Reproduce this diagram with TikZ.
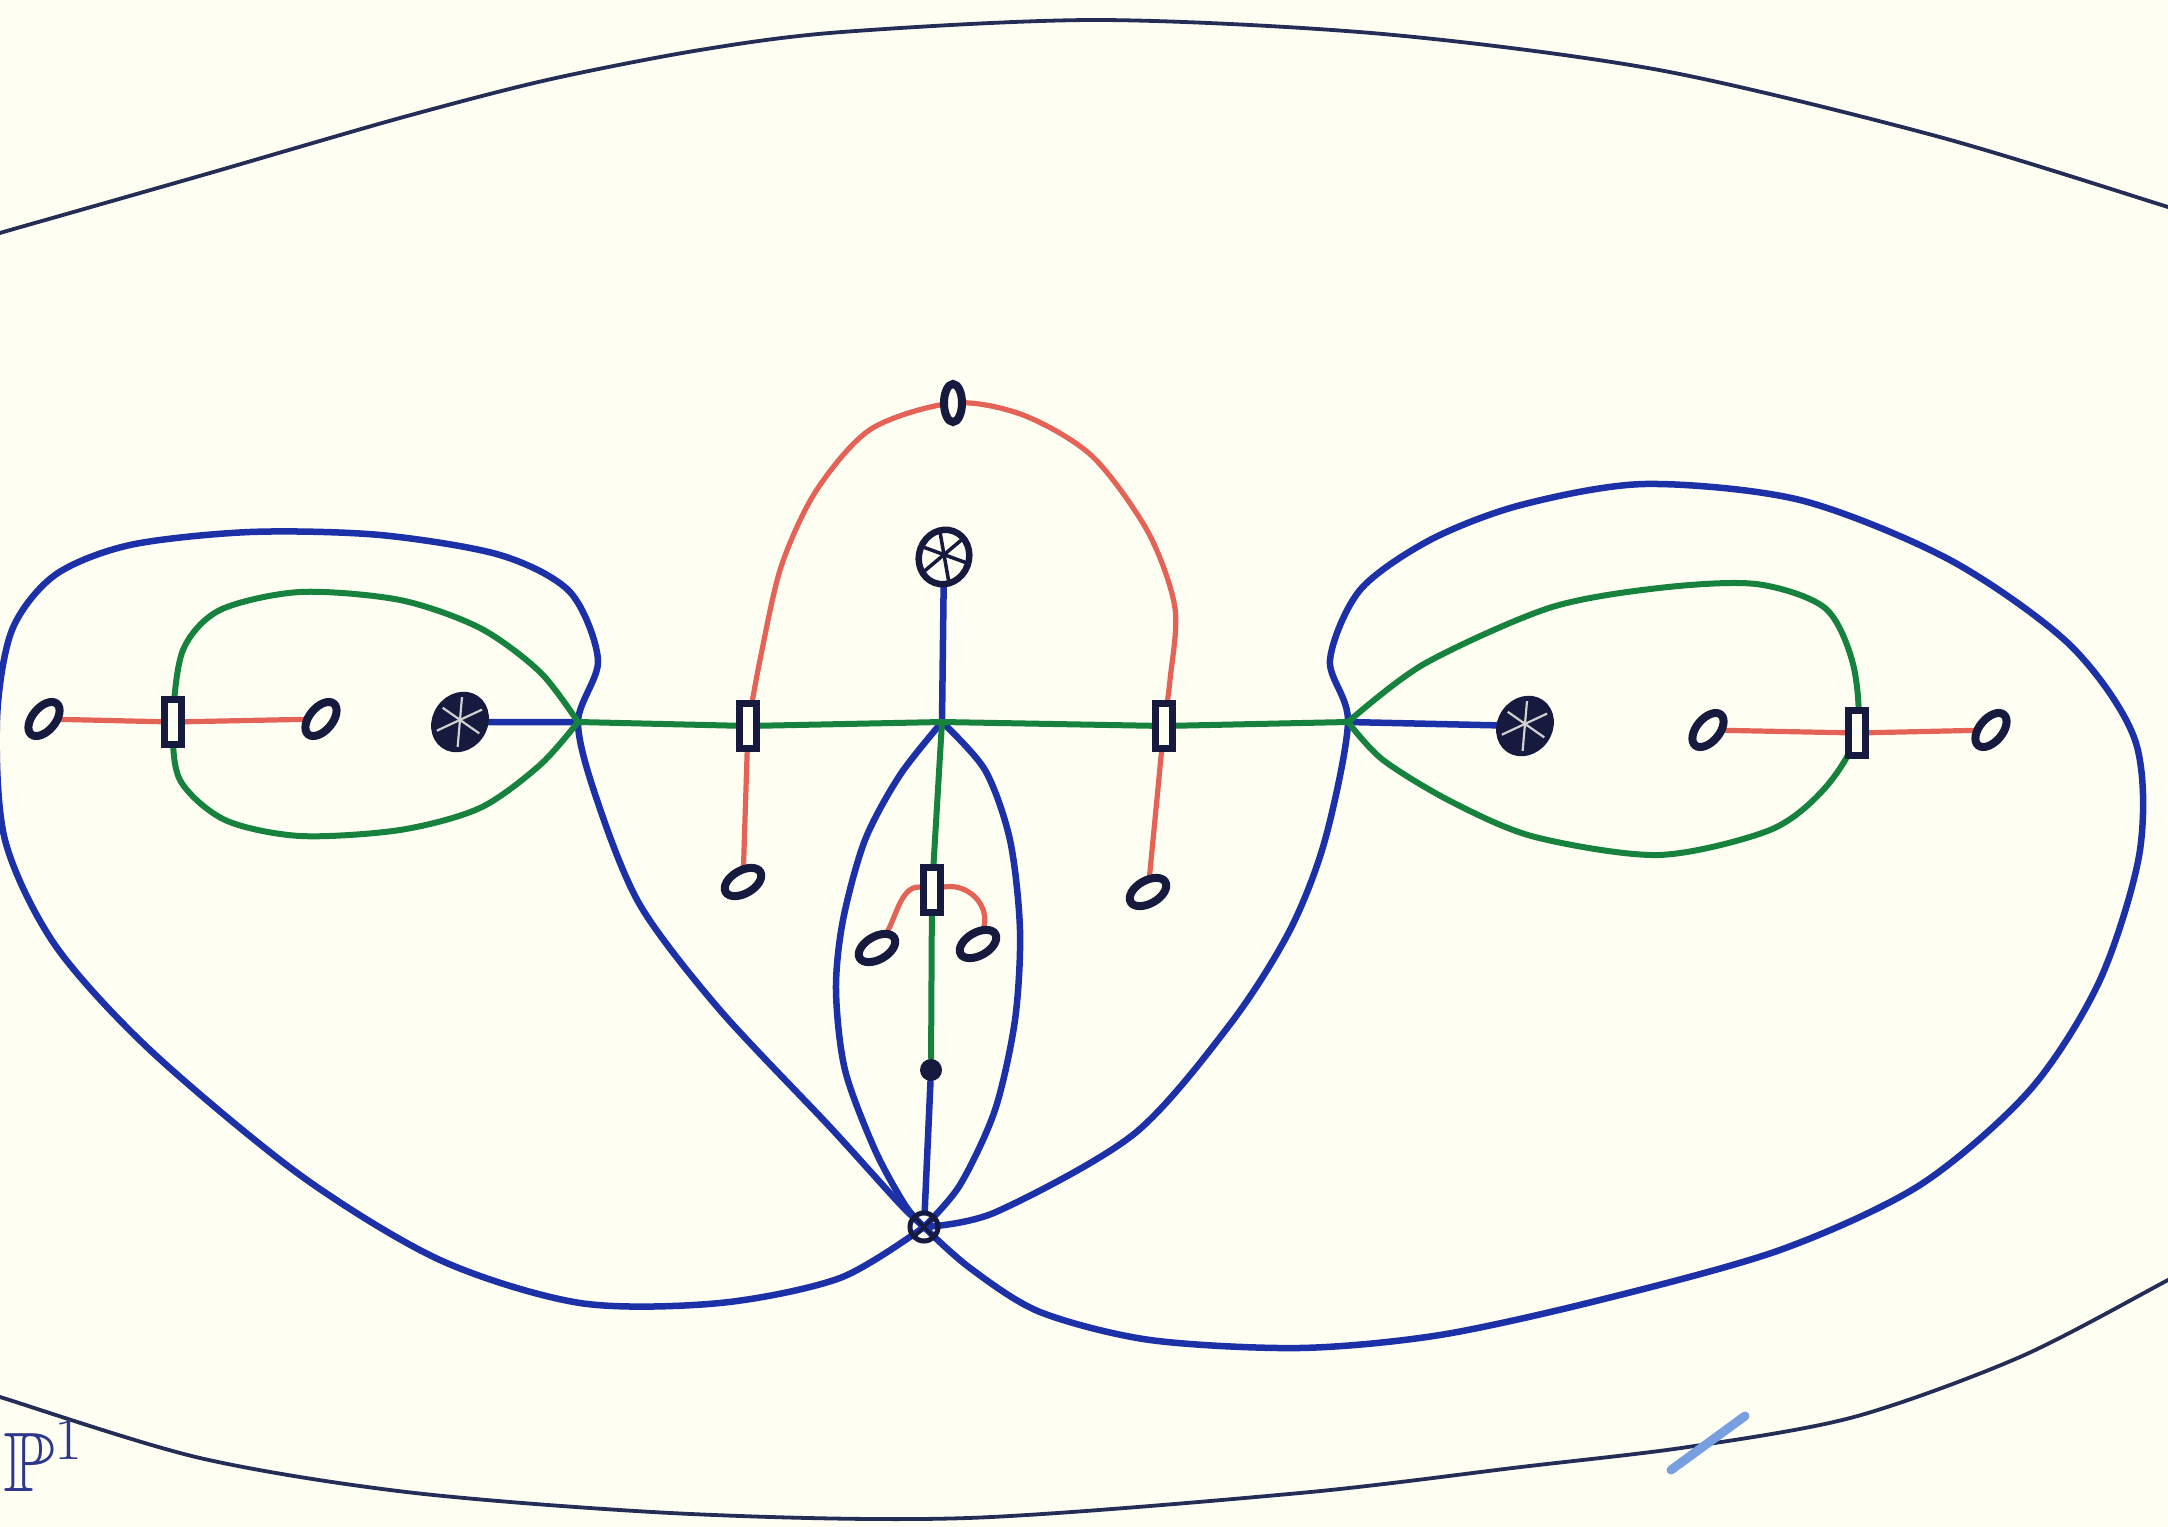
\documentclass[tikz,border=0pt]{standalone}
\usepackage{amssymb}
\usetikzlibrary{shapes.geometric}
\pgfdeclarelayer{paperlayer}
\pgfdeclarelayer{linelayer}
\pgfsetlayers{paperlayer,linelayer,main}
\definecolor{ink}{RGB}{22,26,62}
\definecolor{bl}{RGB}{28,48,168}
\definecolor{gr}{RGB}{22,130,62}
\definecolor{rd}{RGB}{228,98,86}
\definecolor{bd}{RGB}{35,45,85}
\definecolor{paper}{RGB}{255,254,243}
\definecolor{smudgec}{RGB}{120,160,225}
\definecolor{labelc}{RGB}{45,55,140}
\begin{document}
\begin{tikzpicture}[x=0.01cm,y=-0.01cm,
  blueline/.style={draw=bl, line width=0.065cm, line cap=round, line join=round},
  greenline/.style={draw=gr, line width=0.06cm, line cap=round, line join=round},
  redline/.style={draw=rd, line width=0.052cm, line cap=round},
  boundary/.style={draw=bd, line width=0.038cm},
  oshape/.style={ellipse, draw=ink, fill=paper, line width=0.08cm, minimum width=0.23cm, minimum height=0.4cm, inner sep=0pt, outer sep=0pt},
  onode/.style={oshape, rotate=-40},
  flatnode/.style={oshape, rotate=-60},
  bracket/.style={rectangle, draw=ink, fill=paper, line width=0.07cm, minimum width=0.17cm, minimum height=0.44cm, inner sep=0pt, outer sep=0pt},
  darkstar/.style={ellipse, draw=ink, fill=ink, line width=0.05cm, minimum width=0.5cm, minimum height=0.58cm, inner sep=0pt, rotate=-35,
    path picture={\foreach \a in {0,60,120}{\draw[paper!80!ink, line width=0.022cm] (path picture bounding box.center) ++(\a:0.3cm) -- ++(\a+180:0.6cm);}}},
  lightstar/.style={ellipse, draw=ink, fill=paper, line width=0.065cm, minimum width=0.5cm, minimum height=0.55cm, inner sep=0pt, rotate=-20,
    path picture={\foreach \a in {0,60,120}{\draw[ink, line width=0.035cm] (path picture bounding box.center) ++(\a:0.3cm) -- ++(\a+180:0.6cm);}}},
  bvnode/.style={circle, draw=ink, line width=0.05cm, minimum size=0.28cm, inner sep=0pt,
    path picture={\foreach \a in {45,135}{\draw[ink, line width=0.035cm] (path picture bounding box.center) ++(\a:0.2cm) -- ++(\a+180:0.4cm);}}},
  dotnode/.style={circle, fill=ink, minimum size=0.22cm, inner sep=0pt},
  labelnode/.style={text=labelc, font=\fontsize{24}{28}\selectfont, inner sep=0pt}
]
\begin{pgfonlayer}{paperlayer}
\fill[paper] (0,0) rectangle (2168,1527);
\end{pgfonlayer}
\useasboundingbox (0,0) rectangle (2168,1527);

% vertices
\coordinate (VL) at (578,722);
\coordinate (VC) at (942,722);
\coordinate (VR) at (1348,722);

% left cluster
\node[onode] (O1) at (44,719) {};
\node[bracket] (B1) at (173,722) {};
\node[onode] (O2) at (321,719) {};
\node[darkstar] (S1) at (460,722) {};

% centre
\node[bracket] (B2) at (748,726) {};
\node[flatnode] (OB2) at (743,882) {};
\node[oshape, minimum width=0.18cm, minimum height=0.38cm] (Otop) at (953,403) {};
\node[lightstar] (S2) at (944,557) {};
\node[bracket] (B3) at (1164,726) {};
\node[flatnode] (OB3) at (1148,892) {};
\node[bracket] (B4) at (932,890) {};
\node[flatnode] (O4L) at (877,948) {};
\node[flatnode] (O4R) at (978,944) {};
\node[dotnode] (Dot) at (931,1070) {};
\node[bvnode] (BV) at (924,1227) {};

% right cluster
\node[darkstar] (S3) at (1525,726) {};
\node[onode] (O5) at (1708,730) {};
\node[bracket] (B5) at (1857,733) {};
\node[onode] (O6) at (1991,730) {};

% label
\node[labelnode] (P1) at (44,1456) {$\mathbb{P}^1$};

\begin{pgfonlayer}{linelayer}
% outer boundary
\draw[boundary] plot[smooth] coordinates {(-30,243) (0,233) (70,213) (210,173) (400,118) (547,80) (700,50) (842,32) (1100,20) (1383,34) (1659,70) (1936,136) (2168,207) (2200,218)};
\draw[boundary] plot[smooth] coordinates {(-30,1388) (0,1397) (200,1458) (415,1493) (691,1514) (968,1518) (1300,1493) (1521,1467) (1688,1447) (1854,1417) (2020,1357) (2168,1280) (2200,1262)};
\draw[line width=0.09cm, smudgec, line cap=round] (1671,1470) -- (1745,1416);

% blue left lobe
\draw[blueline] plot[smooth] coordinates {(BV) (899,1203) (830,1127) (719,1009) (640,905) (597,800) (VL) (598,660) (570,592) (500,555) (380,535) (250,532) (130,545) (55,575) (12,630) (-3,720) (5,840) (55,945) (150,1050) (300,1175) (440,1260) (580,1303) (720,1303) (840,1278) (BV)};
% blue right lobe
\draw[blueline] plot[smooth] coordinates {(BV) (996,1212) (1134,1134) (1231,1023) (1290,930) (1325,840) (VR) (1330,660) (1360,590) (1430,540) (1521,505) (1645,484) (1800,500) (1950,560) (2070,645) (2135,740) (2140,850) (2100,980) (2030,1090) (1920,1185) (1780,1250) (1600,1300) (1440,1335) (1300,1348) (1150,1340) (1040,1312) (970,1268) (BV)};
% blue lens
\draw[blueline] plot[smooth] coordinates {(VC) (900,775) (865,840) (843,920) (836,990) (845,1070) (875,1150) (905,1205) (BV)};
\draw[blueline] plot[smooth] coordinates {(VC) (985,770) (1010,840) (1020,930) (1015,1020) (995,1110) (960,1185) (BV)};
% blue spokes
\draw[blueline] (S1) -- (VL);
\draw[blueline] (S2) -- (VC);
\draw[blueline] (VR) -- (S3);
\draw[blueline] (Dot) -- (BV);

% green loops
\draw[greenline] plot[smooth] coordinates {(VL) (540,672) (480,628) (400,600) (300,592) (220,610) (183,650) (B1) (180,780) (225,820) (300,836) (400,830) (480,808) (540,765) (VL)};
\draw[greenline] plot[smooth] coordinates {(VR) (1424,664) (1549,608) (1659,588) (1756,584) (1825,608) (1853,664) (B5) (1825,788) (1770,830) (1659,855) (1535,837) (1452,802) (1383,760) (VR)};
% green lines
\draw[greenline] (VL) -- (B2) -- (VC) -- (B3) -- (VR);
\draw[greenline] (VC) -- (B4) -- (Dot);

% red
\draw[redline] (O1) -- (B1) -- (O2);
\draw[redline] (O5) -- (B5) -- (O6);
\draw[redline] plot[smooth] coordinates {(B2) (760,660) (781,567) (816,491) (871,429) (Otop) (1023,415) (1092,456) (1148,532) (1175,608) (1170,680) (B3)};
\draw[redline] (B2) -- (OB2);
\draw[redline] (B3) -- (OB3);
\draw[redline] (B4) to[out=165, in=85] (O4L);
\draw[redline] (B4) to[out=15, in=95] (O4R);
\end{pgfonlayer}
\end{tikzpicture}
\end{document}
